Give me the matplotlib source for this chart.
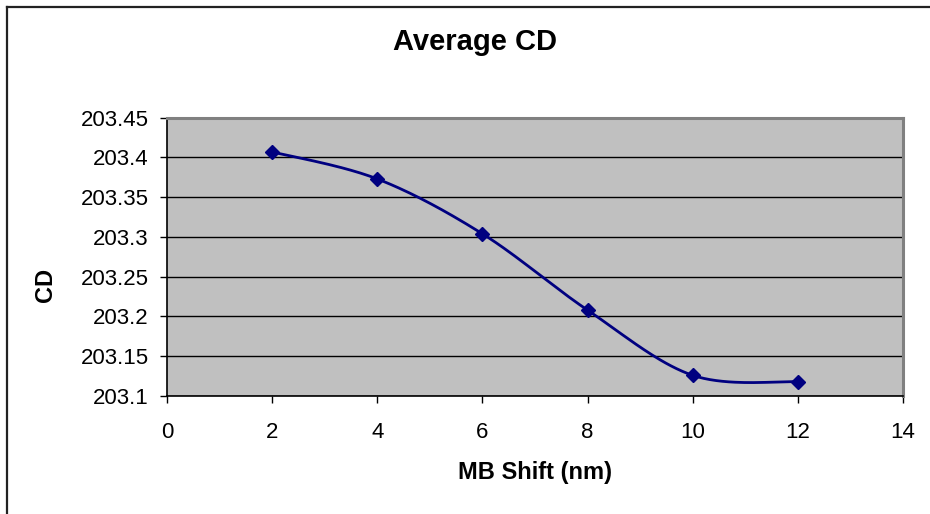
import numpy as np
import matplotlib
matplotlib.use("Agg")
import matplotlib.pyplot as plt
from matplotlib.lines import Line2D

plt.rcParams['font.family'] = ['Liberation Sans', 'DejaVu Sans']

# data
mb_shift = [2, 4, 6, 8, 10, 12]
avg_cd = [203.407, 203.373, 203.304, 203.208, 203.126, 203.118]
x_ticks = [0, 2, 4, 6, 8, 10, 12, 14]
y_ticks = [203.1, 203.15, 203.2, 203.25, 203.3, 203.35, 203.4, 203.45]
y_tick_labels = ['203.1', '203.15', '203.2', '203.25', '203.3', '203.35', '203.4', '203.45']


# smoothed line like the spreadsheet one (cubic bezier, catmull-rom style)
def smooth(xs, ys, n=40):
    px = np.array(xs, dtype=float)
    py = np.array(ys, dtype=float)
    outx, outy = [], []
    for i in range(len(px) - 1):
        i0 = max(i - 1, 0)
        i3 = min(i + 2, len(px) - 1)
        c1x = px[i] + (px[i + 1] - px[i0]) / 6
        c1y = py[i] + (py[i + 1] - py[i0]) / 6
        c2x = px[i + 1] - (px[i3] - px[i]) / 6
        c2y = py[i + 1] - (py[i3] - py[i]) / 6
        t = np.linspace(0, 1, n)
        b0, b1, b2, b3 = (1 - t) ** 3, 3 * t * (1 - t) ** 2, 3 * t ** 2 * (1 - t), t ** 3
        outx.extend(b0 * px[i] + b1 * c1x + b2 * c2x + b3 * px[i + 1])
        outy.extend(b0 * py[i] + b1 * c1y + b2 * c2y + b3 * py[i + 1])
    return outx, outy


fig = plt.figure(figsize=(9.3, 5.14), dpi=100)
ax = fig.add_axes([167 / 930, 118 / 514, 736 / 930, 278.3 / 514])
ax.set_facecolor('#C0C0C0')

sx, sy = smooth(mb_shift, avg_cd)
ax.plot(sx, sy, color='#000080', lw=2, zorder=3)
ax.plot(mb_shift, avg_cd, ls='none', marker='D', ms=7.5, color='#000080', zorder=4)

ax.set_xlim(0, 14)
ax.set_ylim(203.1, 203.45)
ax.set_xticks(x_ticks)
ax.set_yticks(y_ticks)
ax.set_yticklabels(y_tick_labels)
ax.grid(axis='y', color='black', lw=1)
ax.set_axisbelow(True)

for side in ['top', 'right']:
    ax.spines[side].set_color('#808080')
    ax.spines[side].set_linewidth(2.2)
for side in ['left', 'bottom']:
    ax.spines[side].set_color('black')
    ax.spines[side].set_linewidth(1.2)

ax.tick_params(axis='x', direction='out', length=5, width=1, labelsize=16, pad=14)
ax.tick_params(axis='y', direction='out', length=5, width=1, labelsize=16, pad=8)

ax.set_xlabel('MB Shift (nm)', fontsize=17, fontweight='bold')
ax.xaxis.set_label_coords(0.5, -0.235)
ax.set_ylabel('CD', fontsize=17, fontweight='bold')
ax.yaxis.set_label_coords(-0.15, 0.40)

fig.text(474.5 / 930, 1 - 42 / 514, 'Average CD', fontsize=21, fontweight='bold',
         ha='center', va='center')

# chart frame (only left and top edges show in the crop)
fig.add_artist(Line2D([7 / 930, 7 / 930], [0, 1 - 7 / 514], color='#222222', lw=1.6,
                      transform=fig.transFigure))
fig.add_artist(Line2D([7 / 930, 1], [1 - 7 / 514, 1 - 7 / 514], color='#222222', lw=1.6,
                      transform=fig.transFigure))

fig.savefig('out.png', dpi=100)
